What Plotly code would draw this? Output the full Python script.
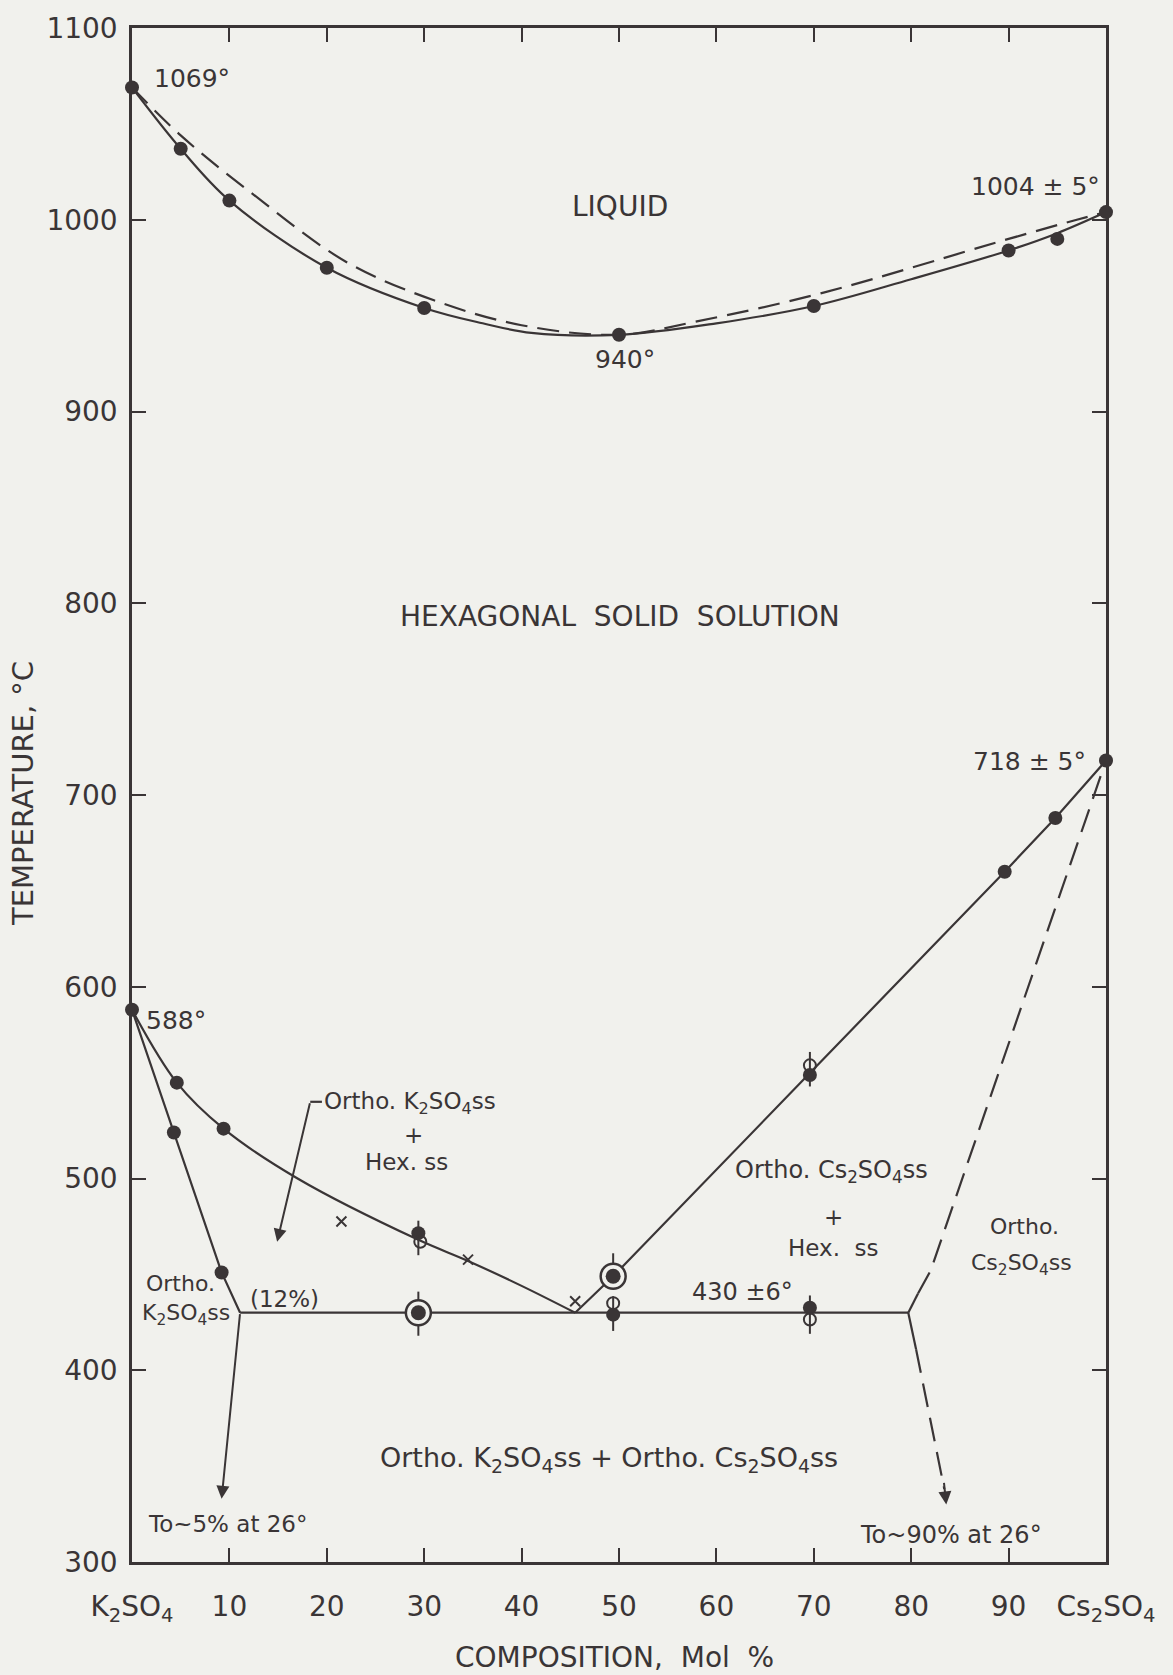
import plotly.graph_objects as go

# ---------------- data ----------------
# liquidus (solid) measured points and curve
liq_pts_x = [0, 5, 10, 20, 30, 50, 70, 90, 95, 100]
liq_pts_y = [1069, 1037, 1010, 975, 954, 940, 955, 984, 990, 1004]
liq_curve_x = [0, 5, 10, 20, 30, 36, 41, 50, 60, 70, 80, 90, 95, 100]
liq_curve_y = [1069, 1037, 1010, 975, 954, 946, 941, 940, 946, 955, 969, 984, 993, 1004]
# solidus (dashed)
sol_curve_x = [0, 5, 12, 22, 31, 40, 50, 58, 71, 90, 97, 100]
sol_curve_y = [1069, 1044, 1015, 978, 958, 945, 940, 947, 962, 990, 1000, 1004]

# hexagonal / orthorhombic boundaries
hexK_x = [0, 4.6, 9.4, 17, 29.4, 34.5, 40, 45.5]
hexK_y = [588, 550, 526, 500, 468, 457, 444, 430]
orthoK_x = [0, 4.3, 9.2, 11.1]
orthoK_y = [588, 524, 451, 430]
eutectoid_x = [11.1, 79.7]
eutectoid_y = [430, 430]
hexCs_x = [45.5, 49.4, 69.6, 89.6, 94.8, 100]
hexCs_y = [430, 449, 555, 660, 688, 718]
orthoCs_solid_x = [79.7, 80.7]
orthoCs_solid_y = [430, 440]
orthoCs_x = [80.7, 82, 100]
orthoCs_y = [440, 452, 718]
# extensions to room temperature
k_ext_x = [11.1, 9.2]
k_ext_y = [430, 333]
cs_ext_solid_x = [79.7, 80.5]
cs_ext_solid_y = [430, 411]
cs_ext_dash_x = [80.5, 83.4]
cs_ext_dash_y = [411, 338]
cs_arrow_x = [83.35, 83.6]
cs_arrow_y = [342, 330]
# label pointer for "Ortho. K2SO4ss + Hex. ss"
ptr_bracket_x = [19.5, 18.3]
ptr_bracket_y = [540, 540]
ptr_arrow_x = [18.3, 14.9]
ptr_arrow_y = [540, 467]

# lower-region measured points
low_fill_x = [0, 4.6, 9.4, 4.3, 9.2, 29.4, 49.4, 69.6, 69.6, 89.6, 94.8, 100]
low_fill_y = [588, 550, 526, 524, 451, 471.5, 429, 432.6, 554, 660, 688, 718]
open_x = [29.6, 49.4, 69.6, 69.6]
open_y = [467, 435, 426.5, 559]
ring_x = [29.4, 49.4]
ring_y = [430, 449]
cross_x = [21.5, 34.5, 45.5]
cross_y = [477.6, 457.7, 436]
bar_x = [29.4, 29.4, 49.4, 49.4, 69.6, 69.6]
bar_lo = [460, 418, 443, 420.5, 548, 419]
bar_hi = [478, 441, 461, 438.6, 566, 439]

x_tickvals = [0, 10, 20, 30, 40, 50, 60, 70, 80, 90, 100]
x_ticktext = ["K<sub>2</sub>SO<sub>4</sub>", "10", "20", "30", "40", "50",
              "60", "70", "80", "90", "Cs<sub>2</sub>SO<sub>4</sub>"]
y_tickvals = [300, 400, 500, 600, 700, 800, 900, 1000, 1100]
y_ticktext = ["300", "400", "500", "600", "700", "800", "900", "1000", "1100"]

# ---------------- styling ----------------
INK = "#3a3536"
BG = "#f1f1ed"
FONT = "DejaVu Sans"

fig = go.Figure()


def add_line(x, y, dash="solid", shape="linear", width=2.2):
    fig.add_trace(go.Scatter(
        x=x, y=y, mode="lines",
        line=dict(color=INK, width=width, dash=dash, shape=shape, smoothing=1.0),
        cliponaxis=False, hoverinfo="skip", showlegend=False))


add_line(liq_curve_x, liq_curve_y, shape="spline")
add_line(sol_curve_x, sol_curve_y, dash="22px,10px", shape="spline")
add_line(hexK_x, hexK_y, shape="spline")
add_line(orthoK_x, orthoK_y)
add_line(eutectoid_x, eutectoid_y)
add_line(hexCs_x, hexCs_y)
add_line(orthoCs_solid_x, orthoCs_solid_y)
add_line(orthoCs_x, orthoCs_y, dash="24px,11px")
add_line(cs_ext_solid_x, cs_ext_solid_y)
add_line(cs_ext_dash_x, cs_ext_dash_y, dash="24px,11px")
add_line(ptr_bracket_x, ptr_bracket_y)

# error bars
bx, by = [], []
for x, lo, hi in zip(bar_x, bar_lo, bar_hi):
    bx += [x, x, None]
    by += [lo, hi, None]
fig.add_trace(go.Scatter(x=bx, y=by, mode="lines", line=dict(color=INK, width=2),
                         cliponaxis=False, hoverinfo="skip", showlegend=False))

# rings of circled points
fig.add_trace(go.Scatter(x=ring_x, y=ring_y, mode="markers",
                         marker=dict(symbol="circle", size=25, color=BG,
                                     line=dict(color=INK, width=2.5)),
                         cliponaxis=False, hoverinfo="skip", showlegend=False))
fig.add_trace(go.Scatter(x=ring_x, y=ring_y, mode="markers",
                         marker=dict(symbol="circle", size=15, color=INK),
                         cliponaxis=False, hoverinfo="skip", showlegend=False))

# filled points
fig.add_trace(go.Scatter(x=liq_pts_x, y=liq_pts_y, mode="markers",
                         marker=dict(symbol="circle", size=14, color=INK),
                         cliponaxis=False, hoverinfo="skip", showlegend=False))
fig.add_trace(go.Scatter(x=low_fill_x, y=low_fill_y, mode="markers",
                         marker=dict(symbol="circle", size=14, color=INK),
                         cliponaxis=False, hoverinfo="skip", showlegend=False))
# open circles
fig.add_trace(go.Scatter(x=open_x, y=open_y, mode="markers",
                         marker=dict(symbol="circle-open", size=12, color=INK,
                                     line=dict(color=INK, width=2)),
                         cliponaxis=False, hoverinfo="skip", showlegend=False))
# crosses
fig.add_trace(go.Scatter(x=cross_x, y=cross_y, mode="markers",
                         marker=dict(symbol="x-thin", size=10, color=INK,
                                     line=dict(color=INK, width=2)),
                         cliponaxis=False, hoverinfo="skip", showlegend=False))


def arrow(xs, ys, size=1.3):
    fig.add_annotation(x=xs[1], y=ys[1], ax=xs[0], ay=ys[0],
                       xref="x", yref="y", axref="x", ayref="y", text="",
                       showarrow=True, arrowhead=2, arrowsize=size,
                       arrowwidth=2, arrowcolor=INK, standoff=0, startstandoff=0)


arrow(k_ext_x, k_ext_y)
arrow(cs_arrow_x, cs_arrow_y)
arrow(ptr_arrow_x, ptr_arrow_y)


def label(text, x, y, size=24, xanchor="center"):
    fig.add_annotation(x=x, y=y, xref="x", yref="y", text=text, showarrow=False,
                       xanchor=xanchor, yanchor="middle",
                       font=dict(family=FONT, size=size, color=INK))


SUB = lambda s: "<sub>%s</sub>" % s

label("1069°", 2.1, 1073.6, 25, "left")
label("1004 ± 5°", 99.6, 1017.6, 25, "right")
label("LIQUID", 50.1, 1006.7, 28)
label("940°", 50.6, 927.2, 25)
label("HEXAGONAL  SOLID  SOLUTION", 50.1, 793.3, 28)
label("718 ± 5°", 98.2, 717.4, 25, "right")
label("588°", 1.2, 582.4, 25, "left")
label("Ortho. K" + SUB("2") + "SO" + SUB("4") + "ss", 19.5, 539.4, 23, "left")
label("+", 28.9, 522.7, 23)
label("Hex. ss", 28.2, 508.7, 23)
label("Ortho.", 4.95, 445.5, 22)
label("K" + SUB("2") + "SO" + SUB("4") + "ss", 5.5, 429.1, 22)
label("(12%)", 15.7, 436.9, 23)
label("430 ±6°", 62.7, 441, 24)
label("Ortho. Cs" + SUB("2") + "SO" + SUB("4") + "ss", 71.8, 503.5, 24)
label("+", 72, 480, 23)
label("Hex.  ss", 72, 463.7, 23)
label("Ortho.", 91.6, 475, 22)
label("Cs" + SUB("2") + "SO" + SUB("4") + "ss", 91.3, 454.9, 22)
label("Ortho. K" + SUB("2") + "SO" + SUB("4") + "ss + Ortho. Cs" + SUB("2") + "SO" + SUB("4") + "ss",
      49, 353.5, 27)
label("To~5% at 26°", 9.8, 320, 23)
label("To~90% at 26°", 84.1, 314, 24)

fig.add_annotation(x=0.4949, y=-0.0623, xref="paper", yref="paper",
                   xanchor="center", yanchor="middle",
                   text="COMPOSITION,  Mol  %", showarrow=False,
                   font=dict(family=FONT, size=28, color=INK))
fig.add_annotation(x=-0.1114, y=0.501, xref="paper", yref="paper",
                   xanchor="center", yanchor="middle",
                   text="TEMPERATURE, °C", showarrow=False, textangle=-90,
                   font=dict(family=FONT, size=29, color=INK))

axis_common = dict(showline=True, linecolor=INK, linewidth=2.5, mirror="ticks",
                   ticks="inside", ticklen=14, tickwidth=2, tickcolor=INK,
                   showgrid=False, zeroline=False,
                   tickfont=dict(family=FONT, size=28, color=INK))

fig.update_layout(
    width=1173, height=1675,
    margin=dict(l=132, r=67, t=21, b=113),
    paper_bgcolor=BG, plot_bgcolor=BG,
    showlegend=False,
    xaxis=dict(range=[0, 100], tickmode="array", tickvals=x_tickvals,
               ticktext=x_ticktext, ticklabelstandoff=18, **axis_common),
    yaxis=dict(range=[300, 1100], tickmode="array", tickvals=y_tickvals,
               ticktext=y_ticktext, ticklabelstandoff=6, **axis_common),
)

fig.write_html("out.html")
